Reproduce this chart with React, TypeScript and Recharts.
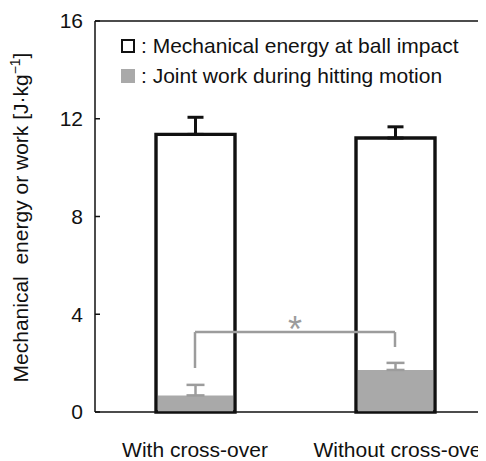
import React from 'react';
import { BarChart, Bar, XAxis, YAxis, ErrorBar, ReferenceLine } from 'recharts';

const CATEGORIES = ['With cross-over', 'Without cross-over'];
const ENERGY = [11.36, 11.21];
const ENERGY_SD = [0.7, 0.46];
const WORK = [0.68, 1.72];
const WORK_SD = [0.43, 0.29];
const Y_TICKS = [0, 4, 8, 12, 16];
const LEGEND_LABELS = ['Mechanical energy at ball impact', 'Joint work during hitting motion'];
const BRACKET_Y = 3.27;
const BRACKET_LEGS = [1.8, 2.66];

const data = CATEGORIES.map((name, i) => ({
  name,
  energy: ENERGY[i],
  energyErr: [0, ENERGY_SD[i]],
  work: WORK[i],
  workErr: [0, WORK_SD[i]],
}));

const INK = '#111';
const GRAY = '#a9a9a9';
const GRAY_LINE = '#9c9c9c';
const FONT = "'Liberation Sans', Arial, sans-serif";

const YTick = (props: any) => {
  const { x, y, payload } = props;
  return (
    <g>
      <line x1={x} x2={x + 5} y1={y} y2={y} stroke={INK} strokeWidth={1.5} />
      <text x={x - 12} y={y} dy="0.355em" textAnchor="end" fontSize={21} fill={INK} fontFamily={FONT}>
        {payload.value}
      </text>
    </g>
  );
};

const XTick = (props: any) => {
  const { x, y, payload, index } = props;
  const shift = index === 1 ? 6 : 0;
  return (
    <text x={x + shift} y={y} dy="0.71em" textAnchor="middle" fontSize={21} fill={INK} fontFamily={FONT}>
      {payload.value}
    </text>
  );
};

const YLabel = (props: any) => {
  const vb = props.viewBox || { x: 27, y: 13, width: 60, height: 391 };
  const cx = vb.x - 7;
  const cy = vb.y + vb.height / 2 + 1;
  return (
    <text
      x={cx}
      y={cy}
      transform={`rotate(-90, ${cx}, ${cy})`}
      textAnchor="middle"
      fontSize={21}
      fill={INK}
      fontFamily={FONT}
      style={{ whiteSpace: 'pre' }}
    >
      {'Mechanical  energy or work [J·kg'}
      <tspan dy={-8} fontSize={14}>{'−1'}</tspan>
      <tspan dy={8}>{']'}</tspan>
    </text>
  );
};

// Legend drawn inside the plot, anchored to the top frame line
const LegendBox = (props: any) => {
  const vb = props.viewBox || { x: 87, y: 13 };
  const left = vb.x;
  const top = vb.y;
  return (
    <g fontFamily={FONT} fontSize={21} fill={INK}>
      {LEGEND_LABELS.map((label, i) => {
        const rowY = top + 18 + i * 30;
        return (
          <g key={label}>
            {i === 0 ? (
              <rect x={left + 27} y={rowY + 1} width={12} height={12} fill="#fff" stroke={INK} strokeWidth={2} />
            ) : (
              <rect x={left + 26} y={rowY} width={14} height={14} fill={GRAY} />
            )}
            <text x={left + 46} y={rowY + 14} fill={INK}>
              {': ' + label}
            </text>
          </g>
        );
      })}
    </g>
  );
};

export default function App() {
  return (
    <div style={{ width: 478, height: 453, overflow: 'hidden', position: 'relative', fontFamily: FONT }}>
      <BarChart width={500} height={453} data={data} margin={{ top: 13, right: 13, bottom: 4, left: 27 }}>
        <XAxis
          dataKey="name"
          axisLine={{ stroke: INK, strokeWidth: 1.5 }}
          tickLine={false}
          tickSize={0}
          tickMargin={30}
          height={45}
          tick={<XTick />}
          interval={0}
        />
        <XAxis dataKey="name" xAxisId="overlay" hide />
        <YAxis
          domain={[0, 16]}
          ticks={Y_TICKS}
          width={60}
          axisLine={{ stroke: INK, strokeWidth: 1.5 }}
          tickLine={false}
          tickSize={0}
          tickMargin={0}
          tick={<YTick />}
          label={<YLabel />}
        />
        <ReferenceLine y={16} stroke={INK} strokeWidth={1.5} label={<LegendBox />} />
        <Bar dataKey="energy" fill="#fff" stroke={INK} strokeWidth={3.4} barSize={79} isAnimationActive={false}>
          <ErrorBar dataKey="energyErr" direction="y" stroke={INK} strokeWidth={3} width={8} />
        </Bar>
        <Bar dataKey="work" xAxisId="overlay" fill={GRAY} barSize={75} isAnimationActive={false}>
          <ErrorBar dataKey="workErr" direction="y" stroke={GRAY_LINE} strokeWidth={2.5} width={9} />
        </Bar>
        <ReferenceLine
          segment={[{ x: CATEGORIES[0], y: BRACKET_Y }, { x: CATEGORIES[1], y: BRACKET_Y }]}
          stroke={GRAY_LINE}
          strokeWidth={2.5}
          label={{ value: '*', position: 'top', offset: -10, fill: GRAY_LINE, fontSize: 36, fontFamily: FONT }}
        />
        <ReferenceLine
          segment={[{ x: CATEGORIES[0], y: BRACKET_Y }, { x: CATEGORIES[0], y: BRACKET_LEGS[0] }]}
          stroke={GRAY_LINE}
          strokeWidth={2.5}
        />
        <ReferenceLine
          segment={[{ x: CATEGORIES[1], y: BRACKET_Y }, { x: CATEGORIES[1], y: BRACKET_LEGS[1] }]}
          stroke={GRAY_LINE}
          strokeWidth={2.5}
        />
      </BarChart>
    </div>
  );
}
